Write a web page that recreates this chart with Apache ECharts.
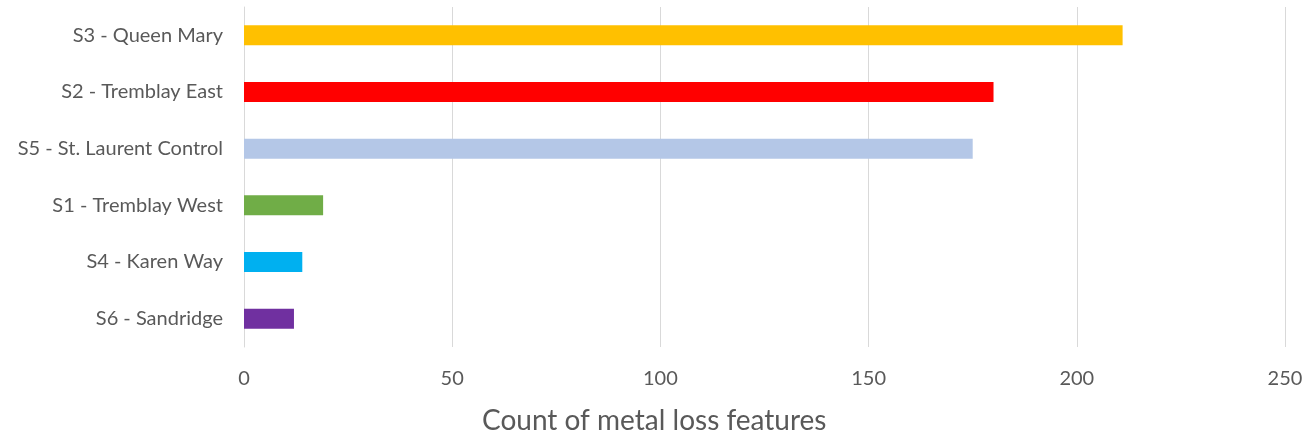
<!DOCTYPE html>
<html>
<head>
<meta charset="utf-8">
<script src="https://cdn.jsdelivr.net/npm/echarts@6/dist/echarts.min.js"></script>
<style>
html,body{margin:0;padding:0;background:#fff;}
#chart{width:1312px;height:440px;}
</style>
</head>
<body>
<div id="chart"></div>
<script>
// Sites listed bottom-to-top (category axis draws first item at the bottom)
const sites = ['S6 - Sandridge', 'S4 - Karen Way', 'S1 - Tremblay West', 'S5 - St. Laurent Control', 'S2 - Tremblay East', 'S3 - Queen Mary'];
const counts = [12, 14, 19, 175, 180, 211];
const barColors = ['#7030A0', '#00B0F0', '#70AD47', '#B4C7E7', '#FF0000', '#FFC000'];
const xTicks = [0, 50, 100, 150, 200, 250];
const axisTitle = 'Count of metal loss features';

const chart = echarts.init(document.getElementById('chart'));
const font = 'Lato, "Open Sans", sans-serif';
chart.setOption({
  animation: false,
  grid: { left: 244, right: 27, top: 7, bottom: 93, containLabel: false },
  xAxis: {
    type: 'value',
    min: xTicks[0],
    max: xTicks[xTicks.length - 1],
    interval: xTicks[1] - xTicks[0],
    axisLine: { show: false },
    axisTick: { show: false },
    splitLine: { show: true, lineStyle: { color: '#d9d9d9', width: 1 } },
    axisLabel: { color: '#595959', fontSize: 20, fontFamily: font, margin: 22 }
  },
  yAxis: {
    type: 'category',
    data: sites,
    axisLine: { show: true, lineStyle: { color: '#d9d9d9', width: 1 } },
    axisTick: { show: false },
    axisLabel: { color: '#595959', fontSize: 20, fontFamily: font, margin: 21 }
  },
  series: [{
    type: 'bar',
    data: counts.map((v, i) => ({ value: v, itemStyle: { color: barColors[i] } })),
    barWidth: 20
  }],
  graphic: [{
    type: 'text',
    left: 482,
    top: 407,
    style: { text: axisTitle, fill: '#595959', font: '28px ' + font }
  }]
});
</script>
</body>
</html>
